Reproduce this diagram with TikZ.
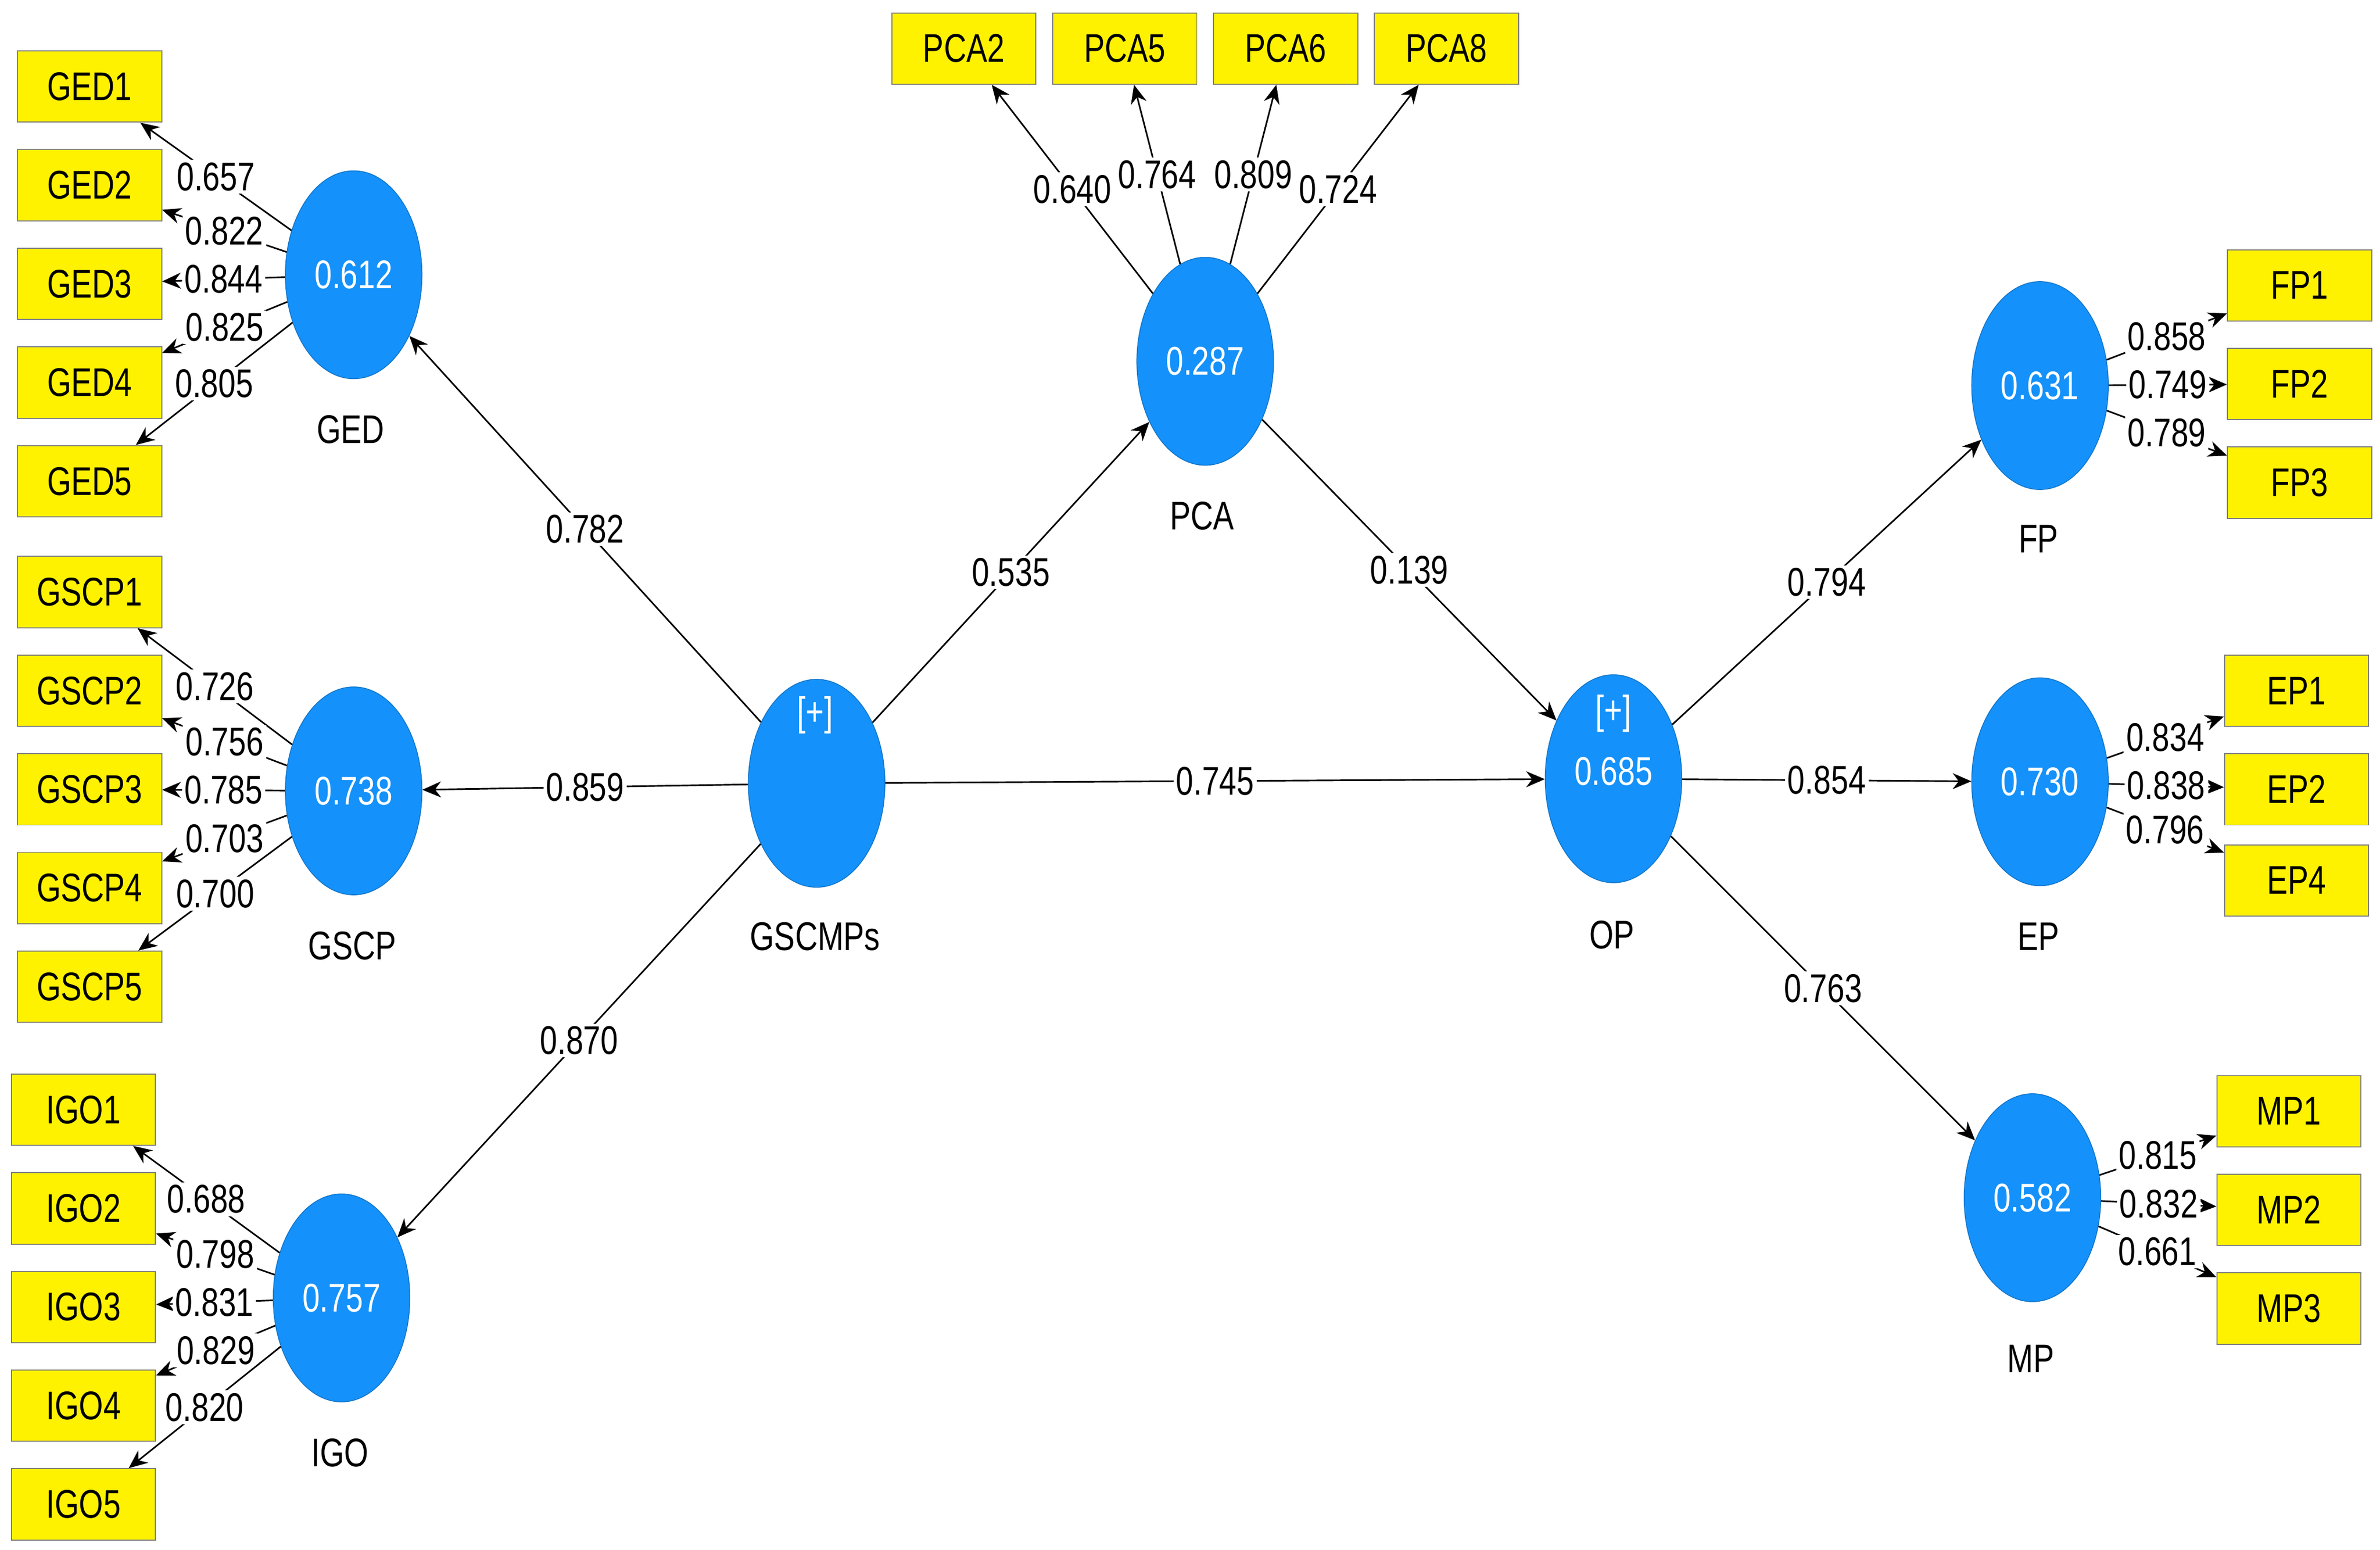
\documentclass[tikz,border=0pt]{standalone}
\usepackage{fontspec}
\setmainfont{Liberation Sans}[FakeStretch=0.78]
\usetikzlibrary{shapes.geometric,arrows.meta}
\definecolor{lv}{RGB}{20,145,250}
\begin{document}
\begin{tikzpicture}[x=0.02cm,y=-0.02cm,
  lat/.style={ellipse,fill=lv,draw=lv!80!black,line width=0.3pt,minimum width=1.8cm,minimum height=2.74cm,inner sep=0pt,text=white,font=\fontsize{15}{15}\selectfont},
  ind/.style={rectangle,fill=yellow,draw=black!50,minimum width=1.9cm,minimum height=0.94cm,inner sep=0pt,font=\fontsize{15}{15}\selectfont},
  nm/.style={font=\fontsize{15}{15}\selectfont},
  ar/.style={-{Stealth[length=7pt,width=6pt]},line width=0.6pt},
  lb/.style={fill=white,inner sep=1pt,font=\fontsize{15}{15}\selectfont}]
\useasboundingbox (0,0) rectangle (1568,1021);
% latent
\node[lat] (GED) at (233,181) {0.612};
\node[lat] (GSCP) at (233,521) {0.738};
\node[lat] (IGO) at (225,855) {0.757};
\node[lat] (GSCMPs) at (538,516) {};
\node[nm,text=white] (gp) at (537,471) {[+]};
\node[lat] (PCA) at (794,238) {0.287};
\node[lat] (OP) at (1063,513) {};
\node[nm,text=white] (op1) at (1063,470) {[+]};
\node[nm,text=white] (op2) at (1063,508) {0.685};
\node[lat] (FP) at (1344,254) {0.631};
\node[lat] (EP) at (1344,515) {0.730};
\node[lat] (MP) at (1339,789) {0.582};
% names
\node[nm] (nGED) at (231,283) {GED};
\node[nm] (nGSCP) at (232,623) {GSCP};
\node[nm] (nIGO) at (224,957) {IGO};
\node[nm] (nGS) at (537,617) {GSCMPs};
\node[nm] (nPCA) at (792,340) {PCA};
\node[nm] (nOP) at (1062,616) {OP};
\node[nm] (nFP) at (1343,355) {FP};
\node[nm] (nEP) at (1343,617) {EP};
\node[nm] (nMP) at (1338,895) {MP};
% indicators
\foreach \n/\y/\v in {1/57/0.657,2/122/0.822,3/187/0.844,4/252/0.825,5/317/0.805}{
  \node[ind] (GED\n) at (59,\y) {GED\n};
  \draw[ar] (GED) -- node[lb]{\v} (GED\n);}
\foreach \n/\y/\v in {1/390/0.726,2/455/0.756,3/520/0.785,4/585/0.703,5/650/0.700}{
  \node[ind] (GSCP\n) at (59,\y) {GSCP\n};
  \draw[ar] (GSCP) -- node[lb]{\v} (GSCP\n);}
\foreach \n/\y/\v in {1/731/0.688,2/796/0.798,3/861/0.831,4/926/0.829,5/991/0.820}{
  \node[ind] (IGO\n) at (55,\y) {IGO\n};
  \draw[ar] (IGO) -- node[lb]{\v} (IGO\n);}
\foreach \n/\x/\v in {2/635/0.640,5/741/0.764,6/847/0.809,8/953/0.724}{
  \node[ind] (PCA\n) at (\x,32) {PCA\n};
  \draw[ar] (PCA) -- node[lb]{\v} (PCA\n);}
\foreach \n/\y/\v in {1/188/0.858,2/253/0.749,3/318/0.789}{
  \node[ind] (FP\n) at (1515,\y) {FP\n};
  \draw[ar] (FP) -- node[lb]{\v} (FP\n);}
\foreach \n/\y/\v in {1/455/0.834,2/520/0.838,4/580/0.796}{
  \node[ind] (EP\n) at (1513,\y) {EP\n};
  \draw[ar] (EP) -- node[lb]{\v} (EP\n);}
\foreach \n/\y/\v in {1/732/0.815,2/797/0.832,3/862/0.661}{
  \node[ind] (MP\n) at (1508,\y) {MP\n};
  \draw[ar] (MP) -- node[lb]{\v} (MP\n);}
% structural
\draw[ar] (GSCMPs) -- node[lb]{0.782} (GED);
\draw[ar] (GSCMPs) -- node[lb]{0.859} (GSCP);
\draw[ar] (GSCMPs) -- node[lb]{0.870} (IGO);
\draw[ar] (GSCMPs) -- node[lb]{0.535} (PCA);
\draw[ar] (GSCMPs) -- node[lb]{0.745} (OP);
\draw[ar] (PCA) -- node[lb]{0.139} (OP);
\draw[ar] (OP) -- node[lb]{0.794} (FP);
\draw[ar] (OP) -- node[lb]{0.854} (EP);
\draw[ar] (OP) -- node[lb]{0.763} (MP);
\end{tikzpicture}
\end{document}
